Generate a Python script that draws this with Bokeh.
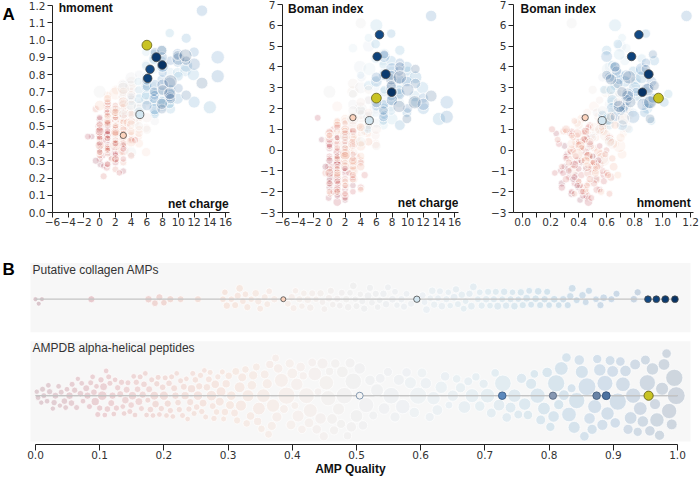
import numpy as np
from bokeh.plotting import figure
from bokeh.layouts import row, column
from bokeh.models import Range1d, FixedTicker, PrintfTickFormatter
from bokeh.core.properties import value
from bokeh.embed import file_html
from bokeh.resources import INLINE

# ---------------------------------------------------------------------------
# AMPDB alpha-helical peptides: AMP quality, net charge, hydrophobic moment,
# Boman index and peptide length (residues)
# ---------------------------------------------------------------------------
quality = [
    0.004, 0.009, 0.013, 0.018, 0.022, 0.027, 0.031, 0.036, 0.040, 0.045,
    0.049, 0.053, 0.057, 0.061, 0.066, 0.070, 0.074, 0.079, 0.084, 0.089,
    0.093, 0.097, 0.100, 0.104, 0.108, 0.112, 0.116, 0.120, 0.124, 0.128,
    0.132, 0.136, 0.140, 0.144, 0.149, 0.153, 0.157, 0.161, 0.165, 0.169,
    0.173, 0.177, 0.181, 0.185, 0.189, 0.193, 0.198, 0.202, 0.206, 0.210,
    0.214, 0.218, 0.222, 0.226, 0.231, 0.235, 0.239, 0.243, 0.247, 0.251,
    0.255, 0.259, 0.263, 0.267, 0.272, 0.276, 0.280, 0.284, 0.289, 0.293,
    0.297, 0.301, 0.305, 0.310, 0.314, 0.318, 0.322, 0.327, 0.331, 0.335,
    0.339, 0.344, 0.348, 0.352, 0.357, 0.361, 0.365, 0.370, 0.374, 0.378,
    0.383, 0.387, 0.391, 0.396, 0.400, 0.404, 0.409, 0.413, 0.417, 0.422,
    0.426, 0.431, 0.435, 0.440, 0.444, 0.449, 0.453, 0.458, 0.462, 0.467,
    0.472, 0.476, 0.481, 0.486, 0.490, 0.495, 0.500, 0.505, 0.510, 0.515,
    0.521, 0.526, 0.532, 0.537, 0.543, 0.549, 0.554, 0.560, 0.566, 0.572,
    0.578, 0.584, 0.590, 0.596, 0.602, 0.608, 0.614, 0.620, 0.626, 0.632,
    0.638, 0.644, 0.650, 0.656, 0.662, 0.668, 0.674, 0.680, 0.686, 0.692,
    0.698, 0.704, 0.710, 0.716, 0.722, 0.728, 0.734, 0.740, 0.746, 0.752,
    0.757, 0.762, 0.767, 0.772, 0.777, 0.782, 0.787, 0.792, 0.797, 0.802,
    0.807, 0.811, 0.815, 0.819, 0.823, 0.827, 0.831, 0.835, 0.839, 0.843,
    0.847, 0.851, 0.855, 0.859, 0.863, 0.867, 0.871, 0.875, 0.879, 0.883,
    0.887, 0.891, 0.895, 0.899, 0.903, 0.907, 0.911, 0.915, 0.919, 0.923,
    0.927, 0.931, 0.934, 0.938, 0.942, 0.946, 0.950, 0.953, 0.957, 0.961,
    0.965, 0.968, 0.972, 0.976, 0.979, 0.983, 0.987, 0.991, 0.995, 0.998,
    0.002, 0.011, 0.020, 0.029, 0.038, 0.047, 0.056, 0.064, 0.072, 0.081,
    0.086, 0.091, 0.095, 0.102, 0.106, 0.110, 0.114, 0.118, 0.122, 0.126,
    0.134, 0.138, 0.142, 0.147, 0.151, 0.155, 0.159, 0.163, 0.167, 0.171,
    0.175, 0.179, 0.183, 0.187, 0.191, 0.196, 0.200, 0.204, 0.208, 0.212,
    0.216, 0.220, 0.224, 0.229, 0.233, 0.237, 0.241, 0.245, 0.249, 0.253,
    0.257, 0.261, 0.265, 0.270, 0.274, 0.278, 0.282, 0.287, 0.291, 0.295,
    0.303, 0.312, 0.320, 0.329, 0.337, 0.346, 0.355, 0.363, 0.368, 0.376,
    0.398, 0.407, 0.415, 0.428, 0.438, 0.447, 0.456, 0.465, 0.478, 0.492,
]
charge = [
    1.0, 0.0, 2.0, 0.9, 0.1, -1.0, 1.1, 2.1, 0.0, 1.5,
    3.0, 1.0, -0.1, 1.9, 0.5, 0.0, 2.0, 1.0, -1.5, 0.4,
    1.0, 2.9, 2.0, 0.0, 1.1, 2.5, 0.0, 1.0, 3.0, 0.9,
    2.0, 0.0, 1.0, 1.9, 4.0, 1.4, 0.5, 2.0, 3.0, 1.0,
    0.0, 2.0, 1.0, 3.0, 2.1, 1.0, -0.5, 2.0, 0.9, 3.5,
    2.0, 1.0, 4.0, 0.0, 2.4, 1.1, 3.0, 2.0, 0.1, 1.0,
    3.0, 2.0, 1.0, 3.9, 2.0, 0.0, 3.0, 1.5, 2.0, 4.0,
    1.0, 3.0, 2.0, 4.9, 1.0, 2.5, 2.0, 4.0, 0.0, 3.1,
    2.0, 4.0, 3.0, 1.0, 5.0, 2.1, 3.5, 3.0, 2.0, 5.9,
    3.0, 4.0, 2.0, 4.9, 3.0, 4.1, 1.0, 5.0, 3.0, 2.0,
    4.0, 5.9, 3.0, 5.0, 2.0, 4.0, 3.0, 4.5, 4.0, 6.0,
    3.0, 5.0, 4.0, 2.0, 6.0, 0.0, 4.0, 3.0, 7.0, 4.0,
    4.9, 3.0, 5.8, 4.1, 6.9, 5.0, 3.9, 6.0, 7.1, 5.0,
    6.0, 4.0, 6.9, 5.1, 3.0, 7.8, 5.9, 5.0, 6.8, 8.9,
    5.9, 4.0, 7.0, 5.0, 6.9, 8.9, 5.9, 7.0, 4.9, 8.0,
    6.9, 8.0, 5.9, 7.0, 9.9, 6.0, 7.9, 5.0, 10.9, 6.9,
    7.9, 6.9, 8.9, 9.0, 6.9, 11.9, 5.9, 8.0, 10.0, 7.0,
    7.9, 14.0, 8.9, 6.0, 11.0, 7.9, 12.0, 6.9, 9.0, 11.0,
    7.9, 9.9, 6.0, 15.0, 8.9, 9.9, 7.0, 8.0, 7.0, 12.0,
    8.0, 13.0, 7.0, 9.9, 6.9, 15.0, 9.0, 8.9, 6.0, 10.0,
    7.9, 12.0, 8.9, 7.0, 8.0, 11.0, 6.9, 10.0, 7.9, 6.0,
    9.0, 13.0, 9.9, 7.9, 8.0, 11.0, 8.9, 7.9, 10.9, 9.0,
    0.0, 1.0, 2.0, -0.5, 1.0, 3.0, 0.0, 2.0, 1.0, 0.0,
    2.0, 1.0, 0.0, 3.0, 1.0, 2.0, 0.5, 1.0, 2.5, 1.0,
    1.0, 3.0, 0.0, 2.0, 1.0, 2.0, 4.5, 0.0, 1.0, 3.0,
    2.0, 0.0, 1.0, 3.0, 2.0, 1.0, 0.0, 2.0, 4.0, 1.0,
    3.0, 1.0, 2.0, 0.0, 2.0, 1.0, 3.0, 2.0, 1.0, 0.0,
    2.0, 4.0, 1.0, 3.0, 2.0, 0.0, 1.0, 3.0, 2.0, 1.0,
    3.0, 2.0, 4.0, 1.0, 3.0, 5.0, 2.0, 4.0, 3.0, 2.0,
    4.0, 3.0, 5.0, 2.0, 4.0, 6.0, 3.0, 5.0, 4.0, 3.0,
]
hmoment = [
    0.42, 0.38, 0.30, 0.45, 0.28, 0.44, 0.35, 0.48, 0.40, 0.32,
    0.24, 0.52, 0.46, 0.36, 0.27, 0.43, 0.55, 0.39, 0.44, 0.33,
    0.47, 0.41, 0.29, 0.50, 0.37, 0.44, 0.31, 0.58, 0.35, 0.26,
    0.49, 0.40, 0.62, 0.34, 0.43, 0.53, 0.21, 0.46, 0.38, 0.57,
    0.44, 0.31, 0.48, 0.55, 0.41, 0.36, 0.60, 0.25, 0.45, 0.50,
    0.39, 0.63, 0.42, 0.33, 0.51, 0.47, 0.29, 0.56, 0.37, 0.44,
    0.52, 0.46, 0.34, 0.58, 0.40, 0.49, 0.65, 0.31, 0.54, 0.45,
    0.60, 0.38, 0.50, 0.44, 0.68, 0.35, 0.57, 0.47, 0.62, 0.53,
    0.42, 0.66, 0.48, 0.55, 0.40, 0.71, 0.52, 0.36, 0.61, 0.35,
    0.58, 0.47, 0.69, 0.54, 0.43, 0.72, 0.51, 0.63, 0.39, 0.57,
    0.66, 0.49, 0.74, 0.55, 0.45, 0.70, 0.60, 0.52, 0.76, 0.48,
    0.67, 0.58, 0.73, 0.50, 0.64, 0.70, 0.35, 0.62, 0.53, 0.78,
    0.60, 0.69, 0.75, 0.57, 0.66, 0.80, 0.63, 0.72, 0.59, 0.70,
    0.77, 0.65, 0.83, 0.61, 0.74, 0.68, 0.86, 0.58, 0.73, 0.64,
    0.79, 0.67, 0.88, 0.71, 0.62, 0.81, 0.93, 0.69, 0.76, 0.84,
    0.90, 0.62, 0.85, 0.58, 0.81, 0.66, 0.70, 0.66, 0.82, 0.64,
    0.65, 0.89, 1.04, 0.60, 0.92, 0.80, 0.68, 0.64, 0.79, 0.57,
    0.94, 0.61, 0.63, 0.73, 1.01, 0.88, 0.64, 0.69, 0.71, 0.85,
    0.77, 0.66, 0.73, 0.90, 0.69, 0.87, 0.60, 0.81, 0.74, 0.93,
    0.85, 1.17, 0.68, 0.92, 0.66, 0.79, 0.88, 0.75, 0.62, 0.72,
    0.90, 0.86, 0.67, 0.93, 0.74, 0.68, 0.70, 0.89, 0.60, 0.77,
    0.66, 0.75, 0.91, 0.63, 0.71, 0.88, 0.69, 0.94, 0.91, 0.76,
    0.36, 0.50, 0.41, 0.30, 0.46, 0.39, 0.54, 0.33, 0.43, 0.48,
    0.40, 0.28, 0.55, 0.37, 0.45, 0.34, 0.42, 0.51, 0.23, 0.47,
    0.58, 0.31, 0.44, 0.49, 0.37, 0.60, 0.42, 0.35, 0.53, 0.46,
    0.40, 0.51, 0.28, 0.45, 0.62, 0.38, 0.47, 0.55, 0.33, 0.43,
    0.48, 0.36, 0.59, 0.43, 0.31, 0.52, 0.40, 0.46, 0.64, 0.39,
    0.42, 0.53, 0.37, 0.61, 0.47, 0.35, 0.56, 0.44, 0.50, 0.66,
    0.45, 0.58, 0.41, 0.52, 0.63, 0.48, 0.39, 0.57, 0.70, 0.46,
    0.51, 0.64, 0.46, 0.59, 0.68, 0.55, 0.72, 0.50, 0.62, 0.57,
]
boman = [
    -0.6, -1.2, 0.2, -0.9, -1.6, 0.5, -2.1, -0.4, -1.8, -0.2,
    0.8, -1.4, -2.3, -0.7, -1.0, 0.1, -1.9, -0.5, 1.55, -1.3,
    -2.5, 0.4, -1.1, -0.8, -1.6, 0.9, -0.3, -1.2, -2.0, 0.3,
    -0.9, -1.5, 0.6, -0.1, -1.8, -0.6, 1.0, -2.2, 0.2, -1.0,
    -0.4, -1.4, 1.2, -0.7, -1.7, 0.0, -1.1, 0.5, -2.0, -0.3,
    0.7, -1.3, -0.5, -0.9, 0.1, -1.6, 0.9, -0.2, -2.1, 0.4,
    -1.0, 0.6, -0.4, 1.1, -1.5, 0.2, -0.8, 0.9, -0.1, -1.9,
    1.3, 0.4, -0.6, 0.8, -1.2, 0.0, 1.0, -0.3, 0.5, -1.4,
    1.5, 0.3, -0.7, 0.9, 1.2, -0.2, 0.6, -1.0, 1.4, 0.3,
    -0.5, 1.0, 0.2, 1.6, -0.1, 0.8, 2.1, 0.4, 1.3, -0.4,
    1.9, 0.7, 1.1, 2.4, 0.0, 1.5, 2.8, 0.9, 1.7, 0.2,
    3.2, 1.2, 2.0, 0.6, 2.6, 2.8, 6.1, 2.2, 1.8, 3.0,
    1.1, 2.7, 2.0, 3.5, 1.5, 2.4, 4.0, 1.3, 2.9, 5.0,
    3.3, 1.9, 2.6, 3.9, 4.9, 2.1, 3.0, 1.6, 4.3, 2.3,
    1.8, 3.6, 2.8, 5.4, 1.2, 3.2, 2.5, 4.6, 1.0, 3.8,
    2.2, 1.5, 4.4, 2.9, 3.4, 6.0, 1.9, 3.1, 2.6, 4.1,
    3.5, 2.0, 2.7, 4.8, 1.4, 3.0, 5.1, 2.4, 3.8, 1.7,
    4.3, 1.5, 2.9, 3.3, 2.3, 5.6, 2.0, 3.7, 1.2, 3.5,
    2.6, 4.0, 2.1, 2.3, 3.4, 1.8, 4.5, 2.8, 3.6, 2.5,
    3.9, 6.45, 2.2, 3.3, 1.6, 1.6, 4.2, 2.7, 3.5, 2.0,
    3.0, 2.2, 3.8, 4.6, 2.4, 3.2, 1.9, 2.9, 3.6, 2.3,
    4.0, 2.6, 1.5, 3.4, 2.8, 3.9, 2.1, 3.1, 2.3, 3.5,
    -1.4, -0.3, -2.4, -0.8, 0.6, -1.7, -0.5, -1.0, -2.2, 0.3,
    -0.9, -1.8, 0.2, -1.3, -0.1, 0.8, -2.0, -0.6, -1.1, 1.1,
    -1.5, -0.4, 0.5, -2.3, -0.7, 0.0, -1.2, 0.9, -1.9, -0.2,
    0.4, -1.6, -0.8, 0.9, -2.1, -0.3, -1.1, 1.3, -0.6, 0.1,
    -1.4, 0.6, -0.2, -2.0, 1.0, -0.9, 0.3, -1.7, -0.4, 0.8,
    0.1, -0.8, 1.4, -1.2, -0.3, 0.7, -2.0, 0.5, -0.6, 1.2,
    -0.5, 0.9, 0.2, -1.1, 1.6, 0.4, -0.2, 1.1, 0.6, -0.8,
    1.1, 0.3, 1.8, 0.7, 2.3, 1.0, 1.5, 2.9, 0.4, 1.9,
]
length = [
    12, 11, 13, 12, 14, 11, 16, 12, 13, 15,
    12, 18, 13, 14, 11, 15, 12, 16, 13, 12,
    20, 13, 14, 24, 12, 15, 13, 17, 12, 14,
    16, 12, 18, 13, 15, 12, 14, 19, 13, 15,
    12, 16, 13, 22, 14, 12, 15, 13, 17, 14,
    12, 18, 15, 13, 16, 12, 14, 20, 13, 15,
    17, 14, 12, 18, 13, 16, 21, 14, 25, 13,
    20, 18, 24, 19, 17, 28, 22, 18, 32, 21,
    23, 19, 34, 18, 22, 26, 20, 36, 19, 24,
    38, 22, 48, 23, 28, 19, 32, 24, 20, 44,
    25, 22, 37, 19, 30, 23, 40, 20, 28, 24,
    32, 23, 46, 20, 26, 46, 34, 30, 24, 42,
    27, 22, 35, 25, 31, 23, 46, 26, 29, 40,
    24, 32, 27, 48, 25, 30, 23, 36, 28, 33,
    24, 19, 30, 21, 26, 34, 22, 38, 20, 27,
    23, 40, 25, 21, 31, 46, 24, 28, 36, 22,
    26, 33, 24, 29, 21, 42, 25, 34, 27, 23,
    30, 48, 26, 37, 28, 24, 40, 22, 32, 45,
    27, 35, 24, 50, 30, 26, 38, 23, 33, 29,
    44, 36, 25, 31, 27, 48, 24, 40, 30, 26,
    34, 42, 28, 23, 37, 30, 25, 45, 27, 33,
    29, 39, 26, 35, 31, 24, 42, 28, 48, 50,
    11, 13, 12, 14, 11, 12, 15, 13, 12, 17,
    13, 15, 12, 14, 19, 12, 13, 16, 12, 14,
    14, 12, 16, 13, 21, 12, 15, 13, 17, 12,
    13, 15, 12, 18, 13, 14, 23, 12, 15, 13,
    16, 12, 14, 13, 20, 12, 17, 13, 15, 24,
    14, 19, 13, 16, 27, 14, 15, 22, 13, 18,
    22, 19, 29, 18, 24, 20, 37, 19, 23, 26,
    25, 33, 21, 38, 24, 29, 42, 23, 31, 27,
]

# ---------------------------------------------------------------------------
# Putative collagen AMPs (AMP quality and length)
# ---------------------------------------------------------------------------
coll_quality = [
    0.000, 0.005, 0.010, 0.087,
    0.176, 0.186, 0.193, 0.200, 0.210, 0.226, 0.253,
    0.292, 0.298, 0.305, 0.311, 0.318, 0.323, 0.330, 0.336, 0.343, 0.350, 0.357, 0.364, 0.372,
    0.393, 0.399, 0.405, 0.411, 0.418, 0.424, 0.431, 0.437, 0.444, 0.450, 0.457, 0.463, 0.470, 0.477, 0.484,
    0.490, 0.495, 0.500, 0.506, 0.512, 0.518, 0.524, 0.530, 0.536, 0.542, 0.549, 0.556, 0.563, 0.570, 0.578, 0.585,
    0.603, 0.609, 0.615, 0.621, 0.627, 0.633, 0.640, 0.646, 0.652, 0.658, 0.664, 0.670, 0.676, 0.682, 0.689, 0.695,
    0.702, 0.708, 0.714, 0.720, 0.727, 0.733, 0.740, 0.746, 0.752, 0.759, 0.765, 0.772, 0.779, 0.786, 0.793, 0.800, 0.808,
    0.822, 0.829, 0.836, 0.843, 0.852, 0.862, 0.873, 0.885, 0.897,
    0.932, 0.938,
    0.295, 0.315, 0.327, 0.347, 0.361, 0.402, 0.415, 0.428, 0.447, 0.460,
    0.474, 0.487, 0.498, 0.509, 0.521, 0.533, 0.546, 0.560, 0.574, 0.606,
    0.618, 0.630, 0.643, 0.655, 0.667, 0.679, 0.692, 0.705, 0.717, 0.730,
    0.743, 0.756, 0.769, 0.783, 0.797, 0.815, 0.833, 0.857, 0.880, 0.905,
]
coll_length = [
    11, 11, 11, 22,
    24, 20, 22, 19, 23, 21, 22,
    20, 24, 19, 22, 26, 20, 23, 19, 25, 21, 22, 20, 24,
    21, 25, 19, 23, 20, 27, 22, 19, 24, 21, 26, 20, 23, 22, 25,
    20, 26, 22, 19, 24, 28, 21, 23, 20, 25, 22, 27, 19, 24, 21, 23,
    22, 27, 20, 24, 21, 26, 23, 19, 28, 22, 25, 20, 24, 27, 21, 23,
    25, 20, 23, 28, 21, 24, 22, 26, 19, 23, 27, 21, 25, 22, 24, 20, 26,
    24, 22, 27, 21, 25, 23, 20, 26, 22,
    25, 23,
    19, 23, 20, 24, 21, 22, 19, 25, 20, 23,
    21, 26, 19, 22, 24, 20, 25, 21, 23, 20,
    26, 22, 19, 24, 21, 27, 20, 23, 22, 25,
    19, 24, 21, 26, 22, 20, 24, 21, 23, 22,
]

# Highlighted collagen AMPs
hit_quality = [0.954, 0.967, 0.981, 0.996, 0.386, 0.594]
hit_charge = [6.4, 6.1, 7.2, 7.95, 3.0, 5.1]
hit_hmoment = [0.83, 0.778, 0.90, 0.855, 0.447, 0.568]
hit_boman = [5.55, 4.5, 3.65, 2.78, 1.56, 1.42]
hit_length = [20, 20, 22, 20, 11, 18]

# Reference peptides marked in the AMPDB set; the last one is also shown in A
ref_quality = [0.505, 0.727, 0.806, 0.874, 0.889, 0.955]
ref_length = [16, 18, 17, 18, 19, 23]
ref_a_charge = [6.0]
ref_a_hmoment = [0.97]
ref_a_boman = [2.5]

for col in (charge, hmoment, boman, length):
    assert len(col) == len(quality)
assert len(coll_length) == len(coll_quality)

# ---------------------------------------------------------------------------
# styling helpers
# ---------------------------------------------------------------------------
# diverging red-grey-blue scale for AMP quality (grey midpoint keeps mid values visible)
QUALITY_SCALE = ["#67001f", "#b2182b", "#d6604d", "#f4a582", "#f6cfbf", "#d6d6d8",
                 "#c3d9ea", "#92c5de", "#4393c3", "#2166ac", "#053061"]
HIT_SCALE = ["#67001f", "#b2182b", "#d6604d", "#f4a582", "#fddbc7", "#f7f7f7",
             "#d1e5f0", "#92c5de", "#4393c3", "#2166ac", "#053061"]
REF_COLORS = ["#f4f4f4", "#5d89bd", "#8898b2", "#6983a6", "#4d72a0", "#c9c323"]
REF_LINES = ["#7890a8", "#3e5f88", "#5d6c85", "#45607f", "#33527a", "#66621a"]
TICK_FONT = "DejaVu Sans"
TITLE_FONT = "Liberation Sans"
INK = "#222222"
SCATTER_ALPHA = 0.17
SWARM_ALPHA = 0.17


def rgb(h):
    return tuple(int(h[i:i + 2], 16) for i in (1, 3, 5))


def quality_color(q, scale=QUALITY_SCALE):
    t = min(max(q, 0.0), 1.0) * (len(scale) - 1)
    i = min(int(t), len(scale) - 2)
    f = t - i
    a, b = rgb(scale[i]), rgb(scale[i + 1])
    return "#%02x%02x%02x" % tuple(int(round(a[k] + (b[k] - a[k]) * f)) for k in range(3))


def style_axis(ax, tick_len=5):
    ax.axis_line_color = INK
    ax.axis_line_width = 1
    ax.major_tick_line_color = INK
    ax.major_tick_out = tick_len
    ax.major_tick_in = 0
    ax.minor_tick_line_color = None
    ax.major_label_text_font = TICK_FONT
    ax.major_label_text_font_size = "10.5px"
    ax.major_label_text_color = "#333333"
    ax.major_label_standoff = 2


def title_text(p, x, y, text, align):
    p.text(x=[x], y=[y], text=[text], text_font=value(TITLE_FONT), text_font_style="bold",
           text_font_size="12px", text_color="#111111", text_align=align, text_baseline="middle")


def scatter_panel(width, xr, yr, left, right, top_px):
    # the frame reaches the top edge; top_px is where the y range's last tick sits
    frame_h = 240 - 28
    scale = (frame_h - top_px) / (yr[1] - yr[0])
    p = figure(width=width, height=240, x_range=Range1d(*xr),
               y_range=Range1d(yr[0], yr[1] + top_px / scale),
               output_backend="svg", toolbar_location=None,
               min_border_left=left, min_border_right=right,
               min_border_top=0, min_border_bottom=28)
    p.grid.visible = False
    p.outline_line_color = None
    p.background_fill_color = "white"
    p.border_fill_color = "white"
    style_axis(p.xaxis[0])
    style_axis(p.yaxis[0])
    p.yaxis[0].bounds = yr
    p.xaxis[0].major_label_standoff = 0
    return p


def scatter_size(n):
    return 1.9 * np.sqrt(n)


bg_colors = [quality_color(q) for q in quality]
a_sizes = [scatter_size(n) for n in length]
hit_colors = [quality_color(q, HIT_SCALE) for q in hit_quality]
hit_sizes_a = [scatter_size(n) for n in hit_length]
ref_size_a = 9.8


def draw_scatter(p, xs, ys, hx, hy, rx, ry):
    p.scatter(x=xs, y=ys, size=a_sizes, marker="circle", fill_color=bg_colors,
              fill_alpha=SCATTER_ALPHA, line_color="white", line_alpha=0.85, line_width=0.9)
    p.scatter(x=hx, y=hy, size=hit_sizes_a, marker="circle", fill_color=hit_colors,
              line_color="#4a4a4a", line_width=0.8)
    p.scatter(x=rx, y=ry, size=ref_size_a, marker="circle", fill_color=REF_COLORS[-1],
              line_color=REF_LINES[-1], line_width=0.8)


NEG = {-6: "\u22126", -4: "\u22124", -3: "\u22123", -2: "\u22122", -1: "\u22121"}
charge_ticks = [-6, -4, -2, 0, 2, 4, 6, 8, 10, 12, 14, 16]
hm_ticks = [0.0, 0.1, 0.2, 0.3, 0.4, 0.5, 0.6, 0.7, 0.8, 0.9, 1.0, 1.1, 1.2]
boman_ticks = [-3, -2, -1, 0, 1, 2, 3, 4, 5, 6, 7]

# panel letter "A" sits in its own narrow strip left of the first plot
letter_a = figure(width=20, height=240, x_range=Range1d(0, 20), y_range=Range1d(0, 240),
                  output_backend="svg", toolbar_location=None,
                  x_axis_location=None, y_axis_location=None, min_border=0)
letter_a.grid.visible = False
letter_a.outline_line_color = None
letter_a.text(x=[2], y=[224.5], text=["A"], text_font=value(TITLE_FONT), text_font_style="bold",
              text_font_size="17px", text_color="#000000", text_align="left",
              text_baseline="alphabetic")

# --- A1: hmoment vs net charge ---
a1 = scatter_panel(213, (-6, 16.5), (0, 1.2), 32, 4, 5)
a1.xaxis[0].ticker = FixedTicker(ticks=charge_ticks)
a1.xaxis[0].major_label_overrides = NEG
a1.yaxis[0].ticker = FixedTicker(ticks=hm_ticks)
a1.yaxis[0].formatter = PrintfTickFormatter(format="%.1f")
draw_scatter(a1, charge, hmoment, hit_charge, hit_hmoment, ref_a_charge, ref_a_hmoment)
title_text(a1, -5.2, 1.188, "hmoment", "left")
title_text(a1, 16.4, 0.052, "net charge", "right")

# --- A2: Boman index vs net charge ---
a2 = scatter_panel(233, (-6, 16.5), (-3, 7), 49, 8, 4)
a2.xaxis[0].ticker = FixedTicker(ticks=charge_ticks)
a2.xaxis[0].major_label_overrides = NEG
a2.yaxis[0].ticker = FixedTicker(ticks=boman_ticks)
a2.yaxis[0].major_label_overrides = NEG
draw_scatter(a2, charge, boman, hit_charge, hit_boman, ref_a_charge, ref_a_boman)
title_text(a2, -5.3, 6.79, "Boman index", "left")
title_text(a2, 16.5, -2.52, "net charge", "right")

# --- A3: Boman index vs hmoment ---
a3 = scatter_panel(234, (-0.065, 1.22), (-3, 7), 47, 7, 4)
a3.xaxis[0].ticker = FixedTicker(ticks=[0.0, 0.2, 0.4, 0.6, 0.8, 1.0, 1.2],
                                 minor_ticks=[0.1, 0.3, 0.5, 0.7, 0.9, 1.1])
a3.xaxis[0].minor_tick_line_color = INK
a3.xaxis[0].minor_tick_out = 5
a3.xaxis[0].minor_tick_in = 0
a3.xaxis[0].formatter = PrintfTickFormatter(format="%.1f")
a3.yaxis[0].ticker = FixedTicker(ticks=boman_ticks)
a3.yaxis[0].major_label_overrides = NEG
draw_scatter(a3, hmoment, boman, hit_hmoment, hit_boman, ref_a_hmoment, ref_a_boman)
title_text(a3, -0.015, 6.79, "Boman index", "left")
title_text(a3, 1.2, -2.52, "hmoment", "right")

# ---------------------------------------------------------------------------
# B: AMP quality bee-swarms (y measured in screen pixels)
# ---------------------------------------------------------------------------
PX_PER_Q = 642.0
Q0_PX = 35.0
B_FRAME_H = 206
TOP_CENTER, TOP_BAND = 146.7, (113.3, 183.3)
BOT_CENTER, BOT_BAND = 49.3, (3.0, 104.3)
BAND_X = (-5.0 / PX_PER_Q, 655.0 / PX_PER_Q)


def swarm_offsets(qs, diams, fixed_qs, fixed_diams, pad=0.3, big_first=False):
    xs = np.asarray(qs, float) * PX_PER_Q
    ds = np.asarray(diams, float)
    px = [q * PX_PER_Q for q in fixed_qs]
    py = [0.0] * len(px)
    pr = [d / 2 for d in fixed_diams]
    steps = np.arange(0.5, 90, 0.5)
    ys = np.zeros(len(xs))
    order = np.argsort(-ds, kind="stable") if big_first else np.argsort(xs, kind="stable")
    for k, i in enumerate(order):
        s = 1.0 if k % 2 == 0 else -1.0
        cands = np.concatenate([[0.0], np.column_stack([s * steps, -s * steps]).ravel()])
        r = ds[i] / 2
        y = 0.0
        if px:
            ax_, ay_, ar_ = np.array(px), np.array(py), np.array(pr)
            near = np.abs(ax_ - xs[i]) < ar_ + r + pad
            if near.any():
                dx = ax_[near] - xs[i]
                need = ar_[near] + r + pad
                ok = ((dx[None, :] ** 2 + (cands[:, None] - ay_[near][None, :]) ** 2)
                      >= need[None, :] ** 2).all(axis=1)
                y = cands[int(np.argmax(ok))]
        ys[i] = y
        px.append(xs[i]); py.append(y); pr.append(r)
    return ys


pb = figure(width=700, height=238, output_backend="svg", toolbar_location=None,
            x_range=Range1d(-Q0_PX / PX_PER_Q, (700 - Q0_PX) / PX_PER_Q),
            y_range=Range1d(0, B_FRAME_H), y_axis_location=None,
            min_border_left=0, min_border_right=0, min_border_top=0, min_border_bottom=32)
pb.grid.visible = False
pb.outline_line_color = None
pb.background_fill_color = "white"
pb.border_fill_color = "white"

pb.quad(left=[BAND_X[0]] * 2, right=[BAND_X[1]] * 2,
        bottom=[TOP_BAND[0], BOT_BAND[0]], top=[TOP_BAND[1], BOT_BAND[1]],
        fill_color="#f7f7f7", line_color=None)

# top band: putative collagen AMPs
coll_d = [1.5 * np.sqrt(n) for n in coll_length]
hit_d_b = [1.5 * np.sqrt(n) for n in hit_length]
coll_y = swarm_offsets(coll_quality, coll_d, hit_quality, hit_d_b)
pb.scatter(x=coll_quality, y=list(TOP_CENTER + coll_y), size=coll_d, marker="circle",
           fill_color=[quality_color(q) for q in coll_quality], fill_alpha=SWARM_ALPHA + 0.03,
           line_color="white", line_alpha=0.85, line_width=0.8)
pb.segment(x0=[0, 0], x1=[1, 1], y0=[TOP_CENTER, BOT_CENTER], y1=[TOP_CENTER, BOT_CENTER],
           line_color="#c4c4c4", line_width=1.2)
pb.scatter(x=hit_quality, y=[TOP_CENTER] * len(hit_quality), size=hit_d_b, marker="circle",
           fill_color=hit_colors, line_color="#4a4a4a", line_width=0.8)

# bottom band: AMPDB alpha-helical peptides
amp_d = [0.32 * n + 1.8 for n in length]
ref_d = [0.32 * n + 1.8 for n in ref_length]
amp_y = swarm_offsets(quality, amp_d, ref_quality, ref_d, big_first=True)
pb.scatter(x=quality, y=list(BOT_CENTER + amp_y), size=amp_d, marker="circle",
           fill_color=bg_colors, fill_alpha=SWARM_ALPHA,
           line_color="white", line_alpha=0.85, line_width=0.8)
pb.segment(x0=[0], x1=[1], y0=[BOT_CENTER], y1=[BOT_CENTER], line_color="#c4c4c4", line_width=1.2)
pb.scatter(x=ref_quality, y=[BOT_CENTER] * len(ref_quality), size=ref_d, marker="circle",
           fill_color=REF_COLORS, line_color=REF_LINES, line_width=0.9)

pb.text(x=[-3.0 / PX_PER_Q, -3.0 / PX_PER_Q], y=[176.7, 97.0],
        text=["Putative collagen AMPs", "AMPDB alpha-helical peptides"],
        text_font=value(TITLE_FONT), text_font_size="12px", text_color="#333333",
        text_align="left", text_baseline="middle")
pb.text(x=[-33.0 / PX_PER_Q], y=[177.0], text=["B"], text_font=value(TITLE_FONT),
        text_font_style="bold", text_font_size="17px", text_color="#000000",
        text_align="left", text_baseline="middle")

xb = pb.xaxis[0]
style_axis(xb, tick_len=6)
xb.bounds = (0, 1)
xb.ticker = FixedTicker(ticks=[0.0, 0.1, 0.2, 0.3, 0.4, 0.5, 0.6, 0.7, 0.8, 0.9, 1.0])
xb.formatter = PrintfTickFormatter(format="%.1f")
xb.major_label_standoff = 0
xb.axis_label = "AMP Quality"
xb.axis_label_standoff = 0
xb.axis_label_text_font = TITLE_FONT
xb.axis_label_text_font_style = "bold"
xb.axis_label_text_font_size = "12px"
xb.axis_label_text_color = "#111111"

layout = column(row(letter_a, a1, a2, a3), pb)
open("out.html", "w").write(file_html(layout, INLINE))
